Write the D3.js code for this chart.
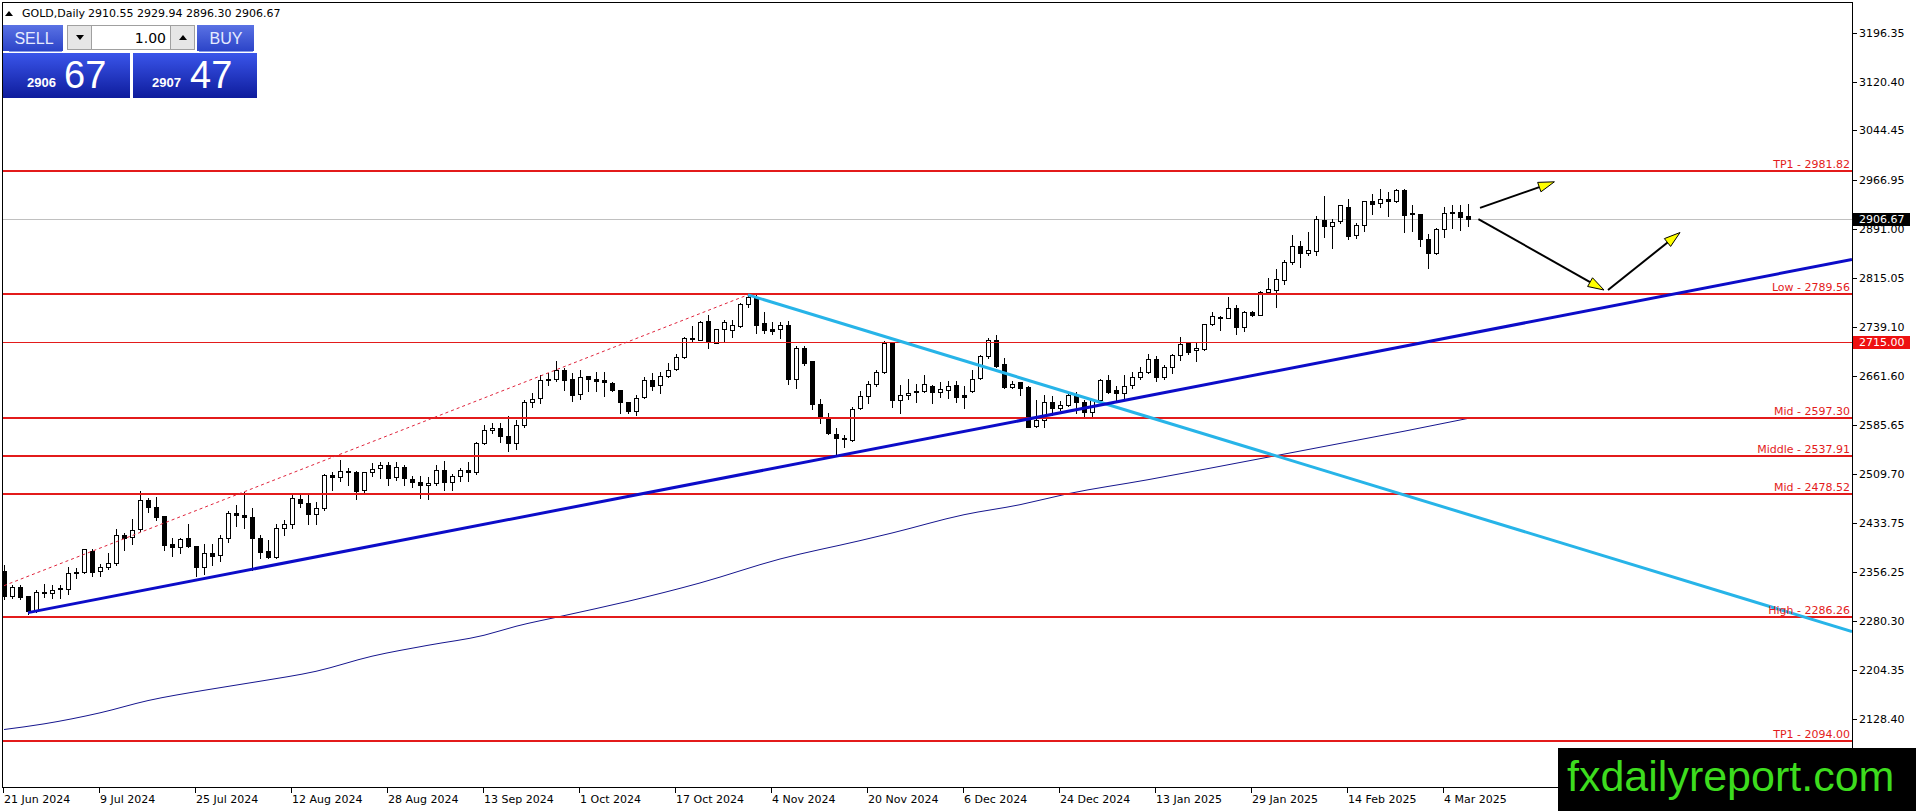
<!DOCTYPE html>
<html>
<head>
<meta charset="utf-8">
<script src="https://d3js.org/d3.v7.min.js"></script>
<style>
body { margin: 0; background: #ffffff; }
svg { display: block; }
</style>
</head>
<body>
<svg id="chart" width="1916" height="811"></svg>
<script>

// daily candles, bar 0 = 21 Jun 2024, bar 183 = 7 Mar 2025
var opens = [2358,2320,2334,2319,2298,2326,2324,2332,2330,2356,2357,2390,2359,2364,2371,2415,2411,2423,2469,2458,
	2444,2401,2396,2409,2397,2364,2386,2383,2410,2448,2446,2442,2409,2389,2380,2426,2431,2471,2465,2447,
	2456,2508,2504,2514,2512,2484,2512,2518,2524,2504,2521,2502,2497,2493,2495,2516,2497,2506,2516,2512,
	2558,2578,2581,2569,2557,2586,2621,2628,2656,2657,2671,2658,2634,2662,2657,2656,2651,2641,2622,2607,
	2629,2656,2648,2662,2673,2692,2720,2718,2747,2714,2735,2734,2740,2774,2785,2745,2735,2736,2742,2657,
	2705,2685,2619,2598,2572,2564,2563,2612,2631,2649,2669,2714,2624,2632,2637,2638,2647,2637,2641,2648,
	2632,2638,2659,2693,2718,2680,2645,2652,2645,2584,2594,2622,2612,2617,2633,2621,2606,2624,2656,2640,
	2635,2648,2661,2668,2689,2660,2676,2695,2713,2702,2704,2743,2754,2753,2768,2738,2762,2757,2793,2796,
	2812,2839,2865,2853,2857,2905,2895,2903,2926,2881,2897,2934,2931,2937,2934,2951,2916,2914,2875,2854,
	2891,2918,2918,2910.55];
var highs = [2367,2337,2337,2320,2328,2338,2337,2336,2365,2363,2393,2393,2370,2386,2424,2417,2439,2483,2472,2474,
	2444,2410,2410,2431,2397,2401,2401,2415,2451,2461,2481,2457,2414,2406,2431,2438,2477,2480,2476,2466,
	2510,2512,2531,2519,2514,2513,2527,2528,2528,2528,2524,2506,2506,2505,2524,2529,2510,2519,2528,2560,
	2586,2589,2589,2600,2594,2624,2635,2664,2667,2685,2674,2666,2672,2662,2669,2669,2652,2641,2622,2633,
	2661,2666,2669,2683,2696,2723,2740,2748,2757,2735,2749,2749,2775,2789,2788,2761,2746,2746,2748,2709,
	2709,2686,2626,2605,2581,2570,2614,2639,2654,2672,2716,2714,2648,2657,2649,2664,2648,2652,2654,2655,
	2646,2672,2695,2721,2726,2690,2655,2652,2646,2625,2632,2631,2623,2636,2637,2624,2627,2658,2664,2647,
	2663,2669,2676,2697,2693,2679,2697,2723,2714,2714,2743,2762,2756,2785,2772,2764,2764,2795,2815,2828,
	2843,2882,2872,2886,2911,2942,2907,2929,2938,2900,2935,2946,2954,2948,2954,2954,2929,2915,2884,2892,
	2925,2929,2928,2929.94];
var lows = [2315,2316,2315,2292,2294,2318,2317,2316,2323,2348,2355,2351,2350,2362,2367,2391,2400,2421,2450,2438,
	2391,2381,2386,2396,2351,2353,2367,2374,2403,2428,2425,2360,2378,2378,2379,2415,2426,2458,2431,2431,
	2454,2485,2498,2493,2470,2482,2506,2503,2492,2500,2492,2489,2472,2470,2493,2484,2484,2499,2499,2510,
	2556,2574,2560,2546,2549,2583,2613,2620,2648,2655,2640,2623,2627,2639,2639,2631,2639,2604,2604,2602,
	2628,2641,2636,2660,2672,2690,2716,2718,2706,2714,2716,2723,2739,2769,2729,2729,2727,2722,2650,2643,
	2679,2611,2589,2571,2539,2552,2561,2610,2620,2646,2667,2614,2604,2626,2622,2637,2620,2629,2628,2622,
	2612,2637,2657,2690,2676,2644,2644,2632,2582,2582,2583,2602,2609,2615,2604,2597,2596,2623,2635,2624,
	2628,2644,2658,2666,2655,2658,2666,2687,2697,2685,2703,2741,2734,2752,2728,2732,2756,2757,2792,2769,
	2806,2837,2832,2851,2851,2879,2861,2901,2876,2877,2888,2915,2926,2912,2933,2887,2888,2865,2830,2852,
	2879,2893,2889,2896.30];
var closes = [2319,2334,2318,2296,2325,2325,2329,2330,2355,2356.5,2392,2357,2364,2371,2415,2410,2422,2469,2458,2443,
	2399,2395,2408,2397,2364,2386,2382,2410,2448,2445,2443,2409,2388,2380,2426,2431,2472,2465,2447,2456,
	2508,2504,2514,2512,2483,2512,2517,2524,2503,2520,2503,2497,2493,2495,2516,2497,2506,2516,2512,2558,
	2578,2581,2568,2557,2585,2621,2627,2656,2657,2671,2656,2633,2661,2657,2655,2652,2640,2621,2607,2628,
	2656,2647,2662,2672,2691,2722,2721,2746,2715,2735,2746,2741,2774,2785,2742,2733,2732,2742,2657,2705,
	2683,2619,2598,2573,2565,2565,2611,2631,2649,2668,2714,2624,2632,2636,2638,2650,2637,2642,2647,2629,
	2630,2658,2693,2718,2678,2645,2650,2644,2583,2594,2622,2612,2617,2633,2621,2606,2624,2656,2637,2635,
	2647,2661,2668,2689,2660,2676,2695,2712,2699,2706,2743,2755,2754.5,2768,2738,2762,2757,2793,2797,2813,
	2840,2864,2853,2858,2907,2895,2902,2928,2880,2897,2934,2930,2937,2934,2951,2913,2914,2875,2854,2891,
	2916,2916,2909,2906.67];

// moving average, read at a few bars
var maBars = [0,5,12,18,25,32,39,46,53,60,64,70,78,87,97,107,111,120,127,133,143,151,159,167,175,183];
var maValues = [2111.4,2120.2,2137.4,2156.5,2172.5,2186.6,2202.1,2225.6,2242.6,2258.2,2272.2,2288.8,2311.1,
	2339.7,2377.0,2405.6,2417.5,2446.0,2461.6,2478.7,2500.5,2519.0,2538.0,2557.0,2576.0,2596.0];

// horizontal levels
var levelPrices = [2981.82, 2789.56, 2715.00, 2597.30, 2537.91, 2478.52, 2286.26, 2094.00];
var levelNames = ["TP1", "Low", "", "Mid", "Middle", "Mid", "High", "TP1"];

// trend lines [bar, price]
var supportLine = [[3, 2293.5], [231, 2843.5]];
var resistLine = [[93, 2788.5], [231, 2264.0]];
var channelLine = [[0, 2335.5], [93, 2788.5]];
var arrows = [
	[[184.5, 2924.0], [193.8, 2964.5]],
	[[184.3, 2906.5], [200.0, 2796.0]],
	[[200.5, 2796.0], [209.5, 2885.5]]
];

var priceTicks = [3196.35, 3120.40, 3044.45, 2966.95, 2891.00, 2815.05, 2739.10, 2661.60,
	2585.65, 2509.70, 2433.75, 2356.25, 2280.30, 2204.35, 2128.40];
var dateLabels = ["21 Jun 2024", "9 Jul 2024", "25 Jul 2024", "12 Aug 2024", "28 Aug 2024", "13 Sep 2024",
	"1 Oct 2024", "17 Oct 2024", "4 Nov 2024", "20 Nov 2024", "6 Dec 2024", "24 Dec 2024",
	"13 Jan 2025", "29 Jan 2025", "14 Feb 2025", "4 Mar 2025"];
var dateStep = 12;

var lastPrice = 2906.67;
var header = "2910.55 2929.94 2896.30 2906.67";

///////////////////////////////////////////////////

var pLeft = 2, pRight = 1852, pTop = 2, pBottom = 787;
var font = "DejaVu Sans, Verdana, sans-serif";
var red = "#e31b1b";

var x = d3.scaleLinear().domain([0, 231]).range([4, 1852]);
var y = d3.scaleLinear().domain([2094.00, 2981.82]).range([740.7, 170.7]);

var svg = d3.select("#chart");
var defs = svg.append("defs");

defs.append("clipPath")
	.attr("id", "plot")
	.append("rect")
	.attr("x", pLeft + 1)
	.attr("y", pTop + 1)
	.attr("width", pRight - pLeft - 1)
	.attr("height", pBottom - pTop - 1);

svg.append("rect")
	.attr("width", 1916)
	.attr("height", 811)
	.attr("fill", "#ffffff");

var plot = svg.append("g")
	.attr("clip-path", "url(#plot)");

var bars = d3.range(opens.length).map(function(i) {
	return { i: i, o: opens[i], h: highs[i], l: lows[i], c: closes[i] };
});

// last price line
plot.append("line")
	.attr("x1", pLeft)
	.attr("x2", pRight)
	.attr("y1", Math.round(y(lastPrice)) + 0.5)
	.attr("y2", Math.round(y(lastPrice)) + 0.5)
	.attr("stroke", "#c0c0c0")
	.attr("stroke-width", 1);

///////////////////////////////////////////////////

plot.selectAll(".wick")
	.data(bars)
	.enter()
	.append("line")
	.attr("class", "wick")
	.attr("x1", function(d) { return x(d.i) + 0.5; })
	.attr("x2", function(d) { return x(d.i) + 0.5; })
	.attr("y1", function(d) { return Math.round(y(d.h)); })
	.attr("y2", function(d) { return Math.round(y(d.l)) + 1; })
	.attr("stroke", "#000000")
	.attr("stroke-width", 1);

plot.selectAll(".body")
	.data(bars)
	.enter()
	.append("rect")
	.attr("class", "body")
	.attr("x", function(d) { return x(d.i) - 1.5; })
	.attr("y", function(d) { return Math.round(y(Math.max(d.o, d.c))) + 0.5; })
	.attr("width", 4)
	.attr("height", function(d) {
		return Math.max(1, Math.round(y(Math.min(d.o, d.c))) - Math.round(y(Math.max(d.o, d.c))));
	})
	.attr("fill", function(d) { return d.c >= d.o ? "#ffffff" : "#000000"; })
	.attr("stroke", "#000000")
	.attr("stroke-width", 1);

// moving average
var maLine = d3.line()
	.x(function(d) { return x(d[0]); })
	.y(function(d) { return y(d[1]); })
	.curve(d3.curveMonotoneX);

plot.append("path")
	.datum(d3.zip(maBars, maValues))
	.attr("d", maLine)
	.attr("fill", "none")
	.attr("stroke", "#16168e")
	.attr("stroke-width", 1);

///////////////////////////////////////////////////

levelPrices.forEach(function(p, k) {
	var thin = levelNames[k] == "";
	var yy = thin ? Math.round(y(p)) + 0.5 : Math.round(y(p));
	plot.append("line")
		.attr("x1", pLeft)
		.attr("x2", pRight)
		.attr("y1", yy)
		.attr("y2", yy)
		.attr("stroke", red)
		.attr("stroke-width", thin ? 1 : 2);
});

var straight = d3.line()
	.x(function(d) { return x(d[0]); })
	.y(function(d) { return y(d[1]); });

plot.append("path")
	.attr("d", straight(channelLine))
	.attr("fill", "none")
	.attr("stroke", "#e0243c")
	.attr("stroke-width", 1)
	.attr("stroke-dasharray", "3,3");

plot.append("path")
	.attr("d", straight(resistLine))
	.attr("fill", "none")
	.attr("stroke", "#27b4e8")
	.attr("stroke-width", 3);

plot.append("path")
	.attr("d", straight(supportLine))
	.attr("fill", "none")
	.attr("stroke", "#0c0cc8")
	.attr("stroke-width", 3);

// arrows with yellow heads
arrows.forEach(function(a) {
	var x1 = x(a[0][0]), y1 = y(a[0][1]);
	var x2 = x(a[1][0]), y2 = y(a[1][1]);
	var ang = Math.atan2(y2 - y1, x2 - x1);
	var len = 16, half = 5;
	var bx = x2 - len * Math.cos(ang), by = y2 - len * Math.sin(ang);
	plot.append("line")
		.attr("x1", x1)
		.attr("y1", y1)
		.attr("x2", bx)
		.attr("y2", by)
		.attr("stroke", "#000000")
		.attr("stroke-width", 2);
	var pts = [
		[x2, y2],
		[bx + half * Math.sin(ang), by - half * Math.cos(ang)],
		[bx - half * Math.sin(ang), by + half * Math.cos(ang)]
	];
	plot.append("polygon")
		.attr("points", pts.map(function(q) { return q.join(","); }).join(" "))
		.attr("fill", "#ffff00")
		.attr("stroke", "#000000")
		.attr("stroke-width", 1);
});

// level labels
levelPrices.forEach(function(p, k) {
	if (levelNames[k] == "") return;
	svg.append("text")
		.attr("x", pRight - 2)
		.attr("y", Math.round(y(p)) - 3)
		.attr("text-anchor", "end")
		.attr("font-family", font)
		.attr("font-size", "11px")
		.attr("fill", red)
		.text(levelNames[k] + " - " + p.toFixed(2));
});

///////////////////////////////////////////////////

// frame
svg.append("rect")
	.attr("x", pLeft + 0.5)
	.attr("y", pTop + 0.5)
	.attr("width", pRight - pLeft)
	.attr("height", pBottom - pTop)
	.attr("fill", "none")
	.attr("stroke", "#000000")
	.attr("stroke-width", 1);

// price axis
priceTicks.forEach(function(t) {
	var yy = Math.round(y(t)) + 0.5;
	svg.append("line")
		.attr("x1", pRight)
		.attr("x2", pRight + 5)
		.attr("y1", yy)
		.attr("y2", yy)
		.attr("stroke", "#000000");
	svg.append("text")
		.attr("x", pRight + 7)
		.attr("y", yy)
		.attr("dy", "0.36em")
		.attr("font-family", font)
		.attr("font-size", "11px")
		.attr("fill", "#000000")
		.text(t.toFixed(2));
});

function priceBox(p, color) {
	var yy = Math.round(y(p));
	svg.append("rect")
		.attr("x", pRight + 1)
		.attr("y", yy - 6)
		.attr("width", 57)
		.attr("height", 13)
		.attr("fill", color);
	svg.append("text")
		.attr("x", pRight + 7)
		.attr("y", yy + 0.5)
		.attr("dy", "0.36em")
		.attr("font-family", font)
		.attr("font-size", "11px")
		.attr("fill", "#ffffff")
		.text(p.toFixed(2));
}

priceBox(lastPrice, "#000000");
priceBox(levelPrices[2], "#ee1111");

// time axis
dateLabels.forEach(function(lab, k) {
	var xx = x(k * dateStep) - 0.5;
	svg.append("line")
		.attr("x1", xx)
		.attr("x2", xx)
		.attr("y1", pBottom)
		.attr("y2", pBottom + 6)
		.attr("stroke", "#000000");
	svg.append("text")
		.attr("x", xx + 0.5)
		.attr("y", 803)
		.attr("font-family", font)
		.attr("font-size", "11px")
		.attr("fill", "#000000")
		.text(lab);
});

///////////////////////////////////////////////////

// header
svg.append("path")
	.attr("d", "M5,16 L13,16 L9,11 Z")
	.attr("fill", "#000000");

svg.append("text")
	.attr("x", 22)
	.attr("y", 17)
	.attr("font-family", font)
	.attr("font-size", "11px")
	.attr("fill", "#000000")
	.text("GOLD,Daily");

svg.append("text")
	.attr("x", 88)
	.attr("y", 17)
	.attr("font-family", font)
	.attr("font-size", "11px")
	.attr("fill", "#000000")
	.text(header);

// trade panel
var gBox = defs.append("linearGradient")
	.attr("id", "gBox")
	.attr("x1", 0).attr("y1", 0).attr("x2", 0).attr("y2", 1);
gBox.append("stop").attr("offset", "0%").attr("stop-color", "#3a55ea");
gBox.append("stop").attr("offset", "100%").attr("stop-color", "#0e1c9c");

var gBtn = defs.append("linearGradient")
	.attr("id", "gBtn")
	.attr("x1", 0).attr("y1", 0).attr("x2", 0).attr("y2", 1);
gBtn.append("stop").attr("offset", "0%").attr("stop-color", "#5a72e4");
gBtn.append("stop").attr("offset", "100%").attr("stop-color", "#2c44c8");

var narrow = "Liberation Sans Narrow, Liberation Sans, Arial, sans-serif";
var arial = "Liberation Sans, Arial, sans-serif";

svg.append("rect").attr("x", 3).attr("y", 25).attr("width", 60).attr("height", 26).attr("fill", "url(#gBtn)");
svg.append("rect").attr("x", 197).attr("y", 25).attr("width", 57).attr("height", 26).attr("fill", "url(#gBtn)");
svg.append("line").attr("x1", 9).attr("x2", 62).attr("y1", 51.5).attr("y2", 51.5).attr("stroke", "#8a9be8");
svg.append("line").attr("x1", 199).attr("x2", 253).attr("y1", 51.5).attr("y2", 51.5).attr("stroke", "#8a9be8");

svg.append("text").attr("x", 34).attr("y", 44).attr("text-anchor", "middle")
	.attr("font-family", narrow).attr("font-size", "16px").attr("fill", "#e6ebff").text("SELL");
svg.append("text").attr("x", 226).attr("y", 44).attr("text-anchor", "middle")
	.attr("font-family", narrow).attr("font-size", "16px").attr("fill", "#e6ebff").text("BUY");

// lot spinner
svg.append("rect").attr("x", 67.5).attr("y", 25.5).attr("width", 127).attr("height", 24)
	.attr("fill", "#ffffff").attr("stroke", "#a0a0a0");
svg.append("rect").attr("x", 67.5).attr("y", 25.5).attr("width", 24).attr("height", 24)
	.attr("fill", "#e6e6e6").attr("stroke", "#a0a0a0");
svg.append("rect").attr("x", 170.5).attr("y", 25.5).attr("width", 24).attr("height", 24)
	.attr("fill", "#e6e6e6").attr("stroke", "#a0a0a0");
svg.append("path").attr("d", "M76,35 L84,35 L80,40 Z").attr("fill", "#000000");
svg.append("path").attr("d", "M179,40 L187,40 L183,35 Z").attr("fill", "#000000");
svg.append("text").attr("x", 166).attr("y", 43).attr("text-anchor", "end")
	.attr("font-family", font).attr("font-size", "14px").attr("fill", "#000000").text("1.00");

// bid / ask boxes
svg.append("rect").attr("x", 3).attr("y", 53).attr("width", 127).attr("height", 45).attr("fill", "url(#gBox)");
svg.append("rect").attr("x", 133).attr("y", 53).attr("width", 124).attr("height", 45).attr("fill", "url(#gBox)");

svg.append("text").attr("x", 27).attr("y", 87)
	.attr("font-family", arial).attr("font-size", "13px").attr("font-weight", "bold")
	.attr("fill", "#ffffff").text("2906");
svg.append("text").attr("x", 64).attr("y", 88)
	.attr("font-family", arial).attr("font-size", "38px")
	.attr("fill", "#ffffff").text("67");
svg.append("text").attr("x", 152).attr("y", 87)
	.attr("font-family", arial).attr("font-size", "13px").attr("font-weight", "bold")
	.attr("fill", "#ffffff").text("2907");
svg.append("text").attr("x", 190).attr("y", 88)
	.attr("font-family", arial).attr("font-size", "38px")
	.attr("fill", "#ffffff").text("47");

// watermark
svg.append("rect")
	.attr("x", 1558)
	.attr("y", 748)
	.attr("width", 358)
	.attr("height", 63)
	.attr("fill", "#000000");

svg.append("text")
	.attr("x", 1567)
	.attr("y", 791)
	.attr("font-family", arial)
	.attr("font-size", "43px")
	.attr("fill", "#3ddc1e")
	.text("fxdailyreport.com");

</script>
</body>
</html>
